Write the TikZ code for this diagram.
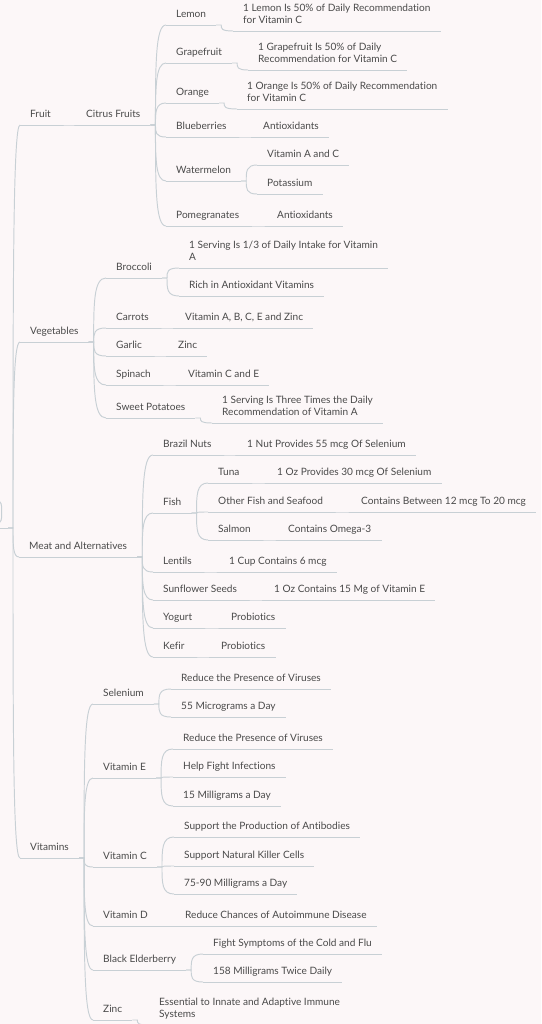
\documentclass[tikz,border=0pt]{standalone}
\usepackage{fontspec}
\setmainfont{Lato}[Ligatures=CommonOff]
\usetikzlibrary{calc}
\definecolor{paper}{RGB}{252,247,248}
\definecolor{wire}{RGB}{200,208,213}
\definecolor{ink}{RGB}{74,74,74}
\tikzset{topic/.style = {anchor=south west, inner xsep=10pt, inner ysep=5pt,
                         text depth=2pt, align=left, text=ink,
                         font=\fontsize{10.1}{12}\selectfont},
         rule/.style = {draw=wire, line width=0.95pt},
         link/.style = {rule,
                        to path={-- ++(5, 0) coordinate (elbow)
                                 .. controls ($(elbow)!0.6!(elbow|-\tikztotarget)$)
                                 and (elbow|-\tikztotarget) .. (\tikztotarget)}}}

\begin{document}
\begin{tikzpicture}[x=1pt, y=-1pt]
    \fill [paper] (0, 0) rectangle (541, 1024);
    \useasboundingbox (0, 0) rectangle (541, 1024);

    % root, mostly off the page
    \node [rule, rounded corners=6pt, minimum width=60pt, minimum height=24pt, anchor=east] (root) at (2, 512) {};
    \coordinate (hub) at (8, 528);
    \draw [rule] (root.south west |- hub) -- (hub);

    % main branches
    \node [topic] (fruit) at (20, 125) {Fruit};
    \node [topic] (vegetables) at (20, 342) {Vegetables};
    \node [topic] (meat) at (19, 557) {Meat and Alternatives};
    \node [topic] (vitamins) at (20, 858) {Vitamins};

    % fruit
    \node [topic] (citrus) at (76, 125) {Citrus Fruits};
    \node [topic] (lemon) at (166, 25) {Lemon};
    \node [topic] (lemon-note) at (233, 31) {1 Lemon Is 50\% of Daily Recommendation\\for Vitamin C};
    \node [topic] (grapefruit) at (166, 63) {Grapefruit};
    \node [topic] (grapefruit-note) at (248, 70) {1 Grapefruit Is 50\% of Daily\\Recommendation for Vitamin C};
    \node [topic] (orange) at (166, 103) {Orange};
    \node [topic] (orange-note) at (237, 109) {1 Orange Is 50\% of Daily Recommendation\\for Vitamin C};
    \node [topic] (blueberries) at (166, 137) {Blueberries};
    \node [topic] (blueberries-note) at (253, 137) {Antioxidants};
    \node [topic] (watermelon) at (166, 181) {Watermelon};
    \node [topic] (watermelon-ac) at (257, 165) {Vitamin A and C};
    \node [topic] (watermelon-k) at (257, 194) {Potassium};
    \node [topic] (pomegranates) at (166, 226) {Pomegranates};
    \node [topic] (pomegranates-note) at (267, 226) {Antioxidants};

    % vegetables
    \node [topic] (broccoli) at (106, 278) {Broccoli};
    \node [topic] (broccoli-a) at (179, 268) {1 Serving Is 1/3 of Daily Intake for Vitamin\\A};
    \node [topic] (broccoli-b) at (179, 296) {Rich in Antioxidant Vitamins};
    \node [topic] (carrots) at (106, 328) {Carrots};
    \node [topic] (carrots-note) at (175, 328) {Vitamin A, B, C, E and Zinc};
    \node [topic] (garlic) at (106, 356) {Garlic};
    \node [topic] (garlic-note) at (168, 356) {Zinc};
    \node [topic] (spinach) at (106, 385) {Spinach};
    \node [topic] (spinach-note) at (178, 385) {Vitamin C and E};
    \node [topic] (sweetpot) at (106, 418) {Sweet Potatoes};
    \node [topic] (sweetpot-note) at (212, 423) {1 Serving Is Three Times the Daily\\Recommendation of Vitamin A};

    % meat and alternatives
    \node [topic] (brazil) at (153, 455) {Brazil Nuts};
    \node [topic] (brazil-note) at (237, 455) {1 Nut Provides 55 mcg Of Selenium};
    \node [topic] (fish) at (153, 513) {Fish};
    \node [topic] (tuna) at (208, 483) {Tuna};
    \node [topic] (tuna-note) at (267, 483) {1 Oz Provides 30 mcg Of Selenium};
    \node [topic] (seafood) at (208, 512) {Other Fish and Seafood};
    \node [topic] (seafood-note) at (351, 512) {Contains Between 12 mcg To 20 mcg};
    \node [topic] (salmon) at (208, 540) {Salmon};
    \node [topic] (salmon-note) at (278, 540) {Contains Omega-3};
    \node [topic] (lentils) at (153, 572) {Lentils};
    \node [topic] (lentils-note) at (219, 572) {1 Cup Contains 6 mcg};
    \node [topic] (sunflower) at (153, 600) {Sunflower Seeds};
    \node [topic] (sunflower-note) at (264, 600) {1 Oz Contains 15 Mg of Vitamin E};
    \node [topic] (yogurt) at (153, 628) {Yogurt};
    \node [topic] (yogurt-note) at (221, 628) {Probiotics};
    \node [topic] (kefir) at (153, 657) {Kefir};
    \node [topic] (kefir-note) at (211, 657) {Probiotics};

    % vitamins
    \node [topic] (selenium) at (93, 704) {Selenium};
    \node [topic] (selenium-a) at (171, 689) {Reduce the Presence of Viruses};
    \node [topic] (selenium-b) at (171, 717) {55 Micrograms a Day};
    \node [topic] (vit-e) at (93, 778) {Vitamin E};
    \node [topic] (vit-e-a) at (173, 749) {Reduce the Presence of Viruses};
    \node [topic] (vit-e-b) at (173, 777) {Help Fight Infections};
    \node [topic] (vit-e-c) at (173, 806) {15 Milligrams a Day};
    \node [topic] (vit-c) at (93, 867) {Vitamin C};
    \node [topic] (vit-c-a) at (174, 837) {Support the Production of Antibodies};
    \node [topic] (vit-c-b) at (174, 866) {Support Natural Killer Cells};
    \node [topic] (vit-c-c) at (174, 894) {75-90 Milligrams a Day};
    \node [topic] (vit-d) at (93, 926) {Vitamin D};
    \node [topic] (vit-d-note) at (175, 926) {Reduce Chances of Autoimmune Disease};
    \node [topic] (elder) at (93, 970) {Black Elderberry};
    \node [topic] (elder-a) at (203, 954) {Fight Symptoms of the Cold and Flu};
    \node [topic] (elder-b) at (203, 982) {158 Milligrams Twice Daily};
    \node [topic] (zinc) at (93, 1020) {Zinc};
    \node [topic] (zinc-note) at (149, 1025) {Essential to Innate and Adaptive Immune\\Systems};

    % underlines
    \foreach \n in {fruit, vegetables, meat, vitamins, citrus, lemon, lemon-note, grapefruit,
                    grapefruit-note, orange, orange-note, blueberries, blueberries-note,
                    watermelon, watermelon-ac, watermelon-k, pomegranates, pomegranates-note,
                    broccoli, broccoli-a, broccoli-b, carrots, carrots-note, garlic, garlic-note,
                    spinach, spinach-note, sweetpot, sweetpot-note, brazil, brazil-note, fish,
                    tuna, tuna-note, seafood, seafood-note, salmon, salmon-note, lentils,
                    lentils-note, sunflower, sunflower-note, yogurt, yogurt-note, kefir,
                    kefir-note, selenium, selenium-a, selenium-b, vit-e, vit-e-a, vit-e-b,
                    vit-e-c, vit-c, vit-c-a, vit-c-b, vit-c-c, vit-d, vit-d-note, elder,
                    elder-a, elder-b, zinc, zinc-note}
      \draw [rule] (\n.south west) -- (\n.south east);

    % connectors
    \foreach \c in {fruit, vegetables, meat, vitamins}
      \draw [link] (hub) to (\c.south west);
    \draw [link] (fruit.south east) to (citrus.south west);
    \foreach \c in {lemon, grapefruit, orange, blueberries, watermelon, pomegranates}
      \draw [link] (citrus.south east) to (\c.south west);
    \foreach \c in {broccoli, carrots, garlic, spinach, sweetpot}
      \draw [link] (vegetables.south east) to (\c.south west);
    \foreach \c in {brazil, fish, lentils, sunflower, yogurt, kefir}
      \draw [link] (meat.south east) to (\c.south west);
    \foreach \c in {tuna, seafood, salmon}
      \draw [link] (fish.south east) to (\c.south west);
    \foreach \c in {selenium, vit-e, vit-c, vit-d, elder, zinc}
      \draw [link] (vitamins.south east) to (\c.south west);
    \draw [link] (watermelon.south east) to (watermelon-ac.south west);
    \draw [link] (watermelon.south east) to (watermelon-k.south west);
    \draw [link] (broccoli.south east) to (broccoli-a.south west);
    \draw [link] (broccoli.south east) to (broccoli-b.south west);
    \draw [link] (selenium.south east) to (selenium-a.south west);
    \draw [link] (selenium.south east) to (selenium-b.south west);
    \draw [link] (elder.south east) to (elder-a.south west);
    \draw [link] (elder.south east) to (elder-b.south west);
    \foreach \c in {a, b, c} {
      \draw [link] (vit-e.south east) to (vit-e-\c.south west);
      \draw [link] (vit-c.south east) to (vit-c-\c.south west);
    }
    \foreach \p in {lemon, grapefruit, orange, blueberries, pomegranates, carrots, garlic,
                    spinach, sweetpot, brazil, tuna, seafood, salmon, lentils, sunflower,
                    yogurt, kefir, vit-d, zinc}
      \draw [link] (\p.south east) to (\p-note.south west);
\end{tikzpicture}
\end{document}
